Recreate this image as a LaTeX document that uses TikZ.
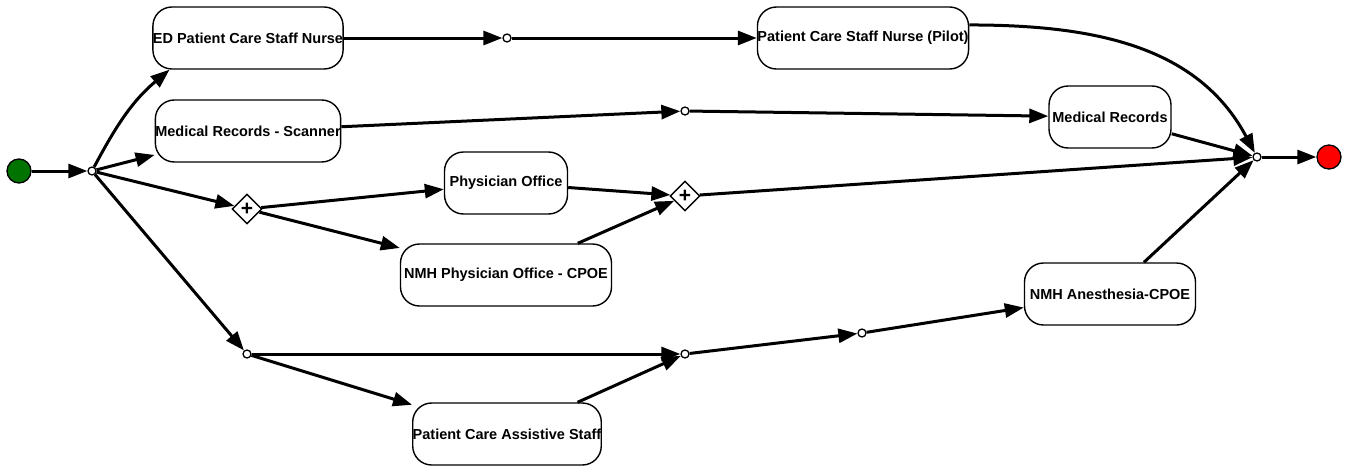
\documentclass[tikz,border=0pt]{standalone}
\usepackage{fontspec}
\setmainfont{Liberation Sans}
\usetikzlibrary{arrows.meta}
\usetikzlibrary{shapes.geometric}

\begin{document}
\begin{tikzpicture}[x=1pt, y=-1pt, line width=3pt,
		>={Triangle[length=19pt,width=14pt]},
		act/.style={draw, line width=1.4pt, rounded corners=19pt, minimum height=62pt,
			inner sep=0pt, font=\fontsize{14.5}{16}\selectfont\bfseries},
		plus/.style={draw, diamond, line width=1.4pt, fill=white, minimum size=30pt,
			inner sep=0pt, font=\fontsize{21}{21}\selectfont\bfseries},
		dot/.style={draw, circle, line width=1.3pt, fill=white, minimum size=8pt, inner sep=0pt},
		ends/.style={draw, circle, line width=1.3pt, minimum size=24pt, inner sep=0pt}]
		\useasboundingbox (0,0) rectangle (1345,466);

		\node[ends, fill=green!45!black] (start) at (19, 171)  {};
		\node[dot]  (fork)   at (92, 171)   {};
		\node[act, minimum width=190pt] (edNurse)    at (248, 38)  {ED Patient Care Staff Nurse};
		\node[dot]  (dotA)   at (507, 38)   {};
		\node[act, minimum width=208pt] (pilotNurse) at (863, 38)  {Patient Care Staff Nurse (Pilot)};
		\node[act, minimum width=180pt] (mrScan)     at (248, 131) {Medical Records - Scanner};
		\node[dot]  (dotB)   at (685, 111)  {};
		\node[act, minimum width=122pt] (mr)         at (1110, 117) {Medical Records};
		\node[plus] (gateA)  at (247, 209)  {+};
		\node[act, minimum width=123pt] (phys)       at (506, 183) {Physician Office};
		\node[plus] (gateB)  at (685, 196)  {+};
		\node[act, minimum width=211pt] (nmhPhys)    at (506, 275) {NMH Physician Office - CPOE};
		\node[dot]  (dotC)   at (247, 354)  {};
		\node[dot]  (dotD)   at (685, 354)  {};
		\node[act, minimum width=186pt] (assist)     at (507, 434) {Patient Care Assistive Staff};
		\node[dot]  (dotE)   at (862, 333)  {};
		\node[act, minimum width=171pt] (anes)       at (1110, 294) {NMH Anesthesia-CPOE};
		\node[dot]  (join)   at (1257, 157) {};
		\node[ends, fill=red] (stop) at (1329, 157) {};

		\draw[->] (start)   -- (fork);
		\draw[->] (fork)    to[out=62, in=220] (edNurse.202);
		\draw[->] (fork)    -- (mrScan);
		\draw[->] (fork)    -- (gateA);
		\draw[->] (fork)    -- (dotC);
		\draw[->] (edNurse) -- (dotA);
		\draw[->] (dotA)    -- (pilotNurse);
		\draw[->] (pilotNurse.7) to[out=0, in=118] (join);
		\draw[->] (mrScan)  -- (dotB);
		\draw[->] (dotB)    -- (mr);
		\draw[->] (mr)      -- (join);
		\draw[->] (gateA)   -- (phys);
		\draw[->] (gateA)   -- (nmhPhys);
		\draw[->] (phys)    -- (gateB);
		\draw[->] (nmhPhys) -- (gateB);
		\draw[->] (gateB)   -- (join);
		\draw[->] (dotC)    -- (dotD);
		\draw[->] (dotC)    -- (assist);
		\draw[->] (assist)  -- (dotD);
		\draw[->] (dotD)    -- (dotE);
		\draw[->] (dotE)    -- (anes);
		\draw[->] (anes)    -- (join);
		\draw[->] (join)    -- (stop);
	\end{tikzpicture}
\end{document}
